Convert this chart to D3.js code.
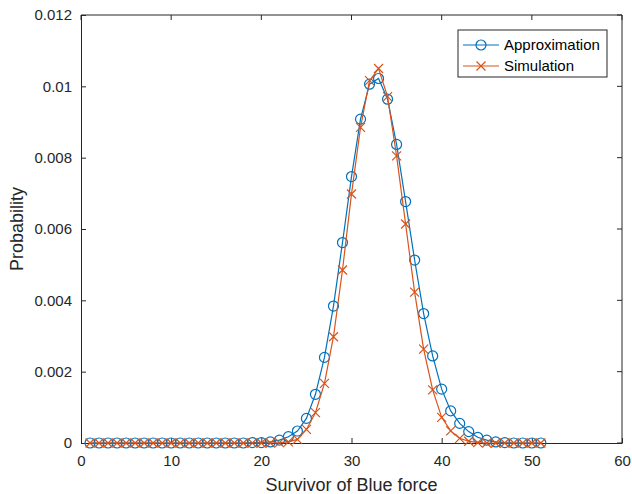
<!DOCTYPE html>
<html>
<head>
<meta charset="utf-8">
<script src="https://cdn.jsdelivr.net/npm/d3@7"></script>
<style>
  body { margin: 0; background: #fff; }
  svg { font-family: "Liberation Sans", Arial, sans-serif; }
</style>
</head>
<body>
<div id="chart"></div>
<script>
// survivors 1..51
const survivors = d3.range(1, 52);

const approx = [
  0, 0, 0, 0, 0, 0, 0, 0, 0, 0,
  0, 0, 0, 0, 0, 0, 0, 0, 0.00001, 0.00001,
  0.00003, 0.00008, 0.000177, 0.000336, 0.00069, 0.001365, 0.0024, 0.00384, 0.00562, 0.00747,
  0.00908, 0.01006, 0.01022, 0.00964, 0.00837, 0.00677, 0.00513, 0.00363, 0.00244, 0.00151,
  0.0009, 0.00055, 0.00032, 0.00016, 0.00008, 0.00003, 0.00001, 0, 0, 0,
  0
];

const simul = [
  0, 0, 0, 0, 0, 0, 0, 0, 0, 0,
  0, 0, 0, 0, 0, 0, 0, 0, 0, 0,
  0, 0.00001, 0.00003, 0.0001, 0.00038, 0.00085, 0.00167, 0.00298, 0.00485, 0.00698,
  0.00885, 0.01016, 0.0105, 0.00971, 0.00805, 0.00614, 0.00423, 0.00263, 0.00149, 0.00072,
  0.00034, 0.00013, 0.00005, 0.00001, 0, 0, 0, 0, 0, 0,
  0
];

const xTicks = [0, 10, 20, 30, 40, 50, 60];
const yTicks = [0, 0.002, 0.004, 0.006, 0.008, 0.01, 0.012];
const seriesNames = ["Approximation", "Simulation"];

const W = 632, H = 494;
const m = {left: 81, right: 10, top: 15, bottom: 51};
const blue = "#0072BD", orange = "#D95319";

const svg = d3.select("#chart").append("svg").attr("width", W).attr("height", H);

const x = d3.scaleLinear().domain([0, 60]).range([m.left, W - m.right]);
const y = d3.scaleLinear().domain([0, 0.012]).range([H - m.bottom, m.top]);

// axes
const gx = svg.append("g").attr("transform", "translate(0," + (H - m.bottom) + ")")
  .call(d3.axisBottom(x).tickValues(xTicks).tickSizeInner(-5).tickSizeOuter(0).tickPadding(12));
const gy = svg.append("g").attr("transform", "translate(" + m.left + ",0)")
  .call(d3.axisLeft(y).tickValues(yTicks).tickSizeInner(-5).tickSizeOuter(0).tickPadding(9)
    .tickFormat(d => d === 0 ? "0" : String(+d.toFixed(3))));

[gx, gy].forEach(g => {
  g.selectAll("path, line").attr("stroke", "#262626");
  g.selectAll("text").attr("fill", "#262626").style("font-size", "15px");
});

// box top and right
svg.append("line").attr("x1", x(0)).attr("x2", x(60)).attr("y1", y(0.012)).attr("y2", y(0.012)).attr("stroke", "#262626");
svg.append("line").attr("x1", x(60)).attr("x2", x(60)).attr("y1", y(0.012)).attr("y2", y(0)).attr("stroke", "#262626");
xTicks.forEach(t => svg.append("line").attr("x1", x(t)).attr("x2", x(t)).attr("y1", y(0.012)).attr("y2", y(0.012) + 5).attr("stroke", "#262626"));
yTicks.forEach(t => svg.append("line").attr("x1", x(60)).attr("x2", x(60) - 5).attr("y1", y(t)).attr("y2", y(t)).attr("stroke", "#262626"));

// labels
svg.append("text").attr("x", (x(0) + x(60)) / 2).attr("y", H - 3).attr("text-anchor", "middle")
  .attr("fill", "#262626").style("font-size", "18px").text("Survivor of Blue force");
svg.append("text").attr("transform", "translate(23," + ((y(0) + y(0.012)) / 2) + ") rotate(-90)")
  .attr("text-anchor", "middle").attr("fill", "#262626").style("font-size", "18px").text("Probability");

const line = d3.line().x((d, i) => x(survivors[i])).y(d => y(d));

function drawX(g, cx, cy, col) {
  const s = 4.5;
  g.append("path").attr("d", `M${cx - s},${cy - s}L${cx + s},${cy + s}M${cx - s},${cy + s}L${cx + s},${cy - s}`)
    .attr("stroke", col).attr("stroke-width", 1.2).attr("fill", "none");
}

// approximation
svg.append("path").datum(approx).attr("d", line).attr("fill", "none").attr("stroke", blue).attr("stroke-width", 1.2);
svg.append("g").selectAll("circle").data(approx).join("circle")
  .attr("cx", (d, i) => x(survivors[i])).attr("cy", d => y(d)).attr("r", 5)
  .attr("fill", "none").attr("stroke", blue).attr("stroke-width", 1.2);

// simulation
svg.append("path").datum(simul).attr("d", line).attr("fill", "none").attr("stroke", orange).attr("stroke-width", 1.2);
const gs = svg.append("g");
simul.forEach((d, i) => drawX(gs, x(survivors[i]), y(d), orange));

// legend
const lg = svg.append("g").attr("transform", "translate(458,30)");
lg.append("rect").attr("width", 149).attr("height", 47).attr("fill", "#fff").attr("stroke", "#262626").attr("stroke-width", 1);
seriesNames.forEach((name, i) => {
  const ly = 15 + i * 21;
  const col = i === 0 ? blue : orange;
  lg.append("line").attr("x1", 5).attr("x2", 41).attr("y1", ly).attr("y2", ly).attr("stroke", col).attr("stroke-width", 1.2);
  if (i === 0) lg.append("circle").attr("cx", 23).attr("cy", ly).attr("r", 5).attr("fill", "none").attr("stroke", col).attr("stroke-width", 1.2);
  else drawX(lg, 23, ly, col);
  lg.append("text").attr("x", 46).attr("y", ly + 5).attr("fill", "#000").style("font-size", "15px").text(name);
});
</script>
</body>
</html>
